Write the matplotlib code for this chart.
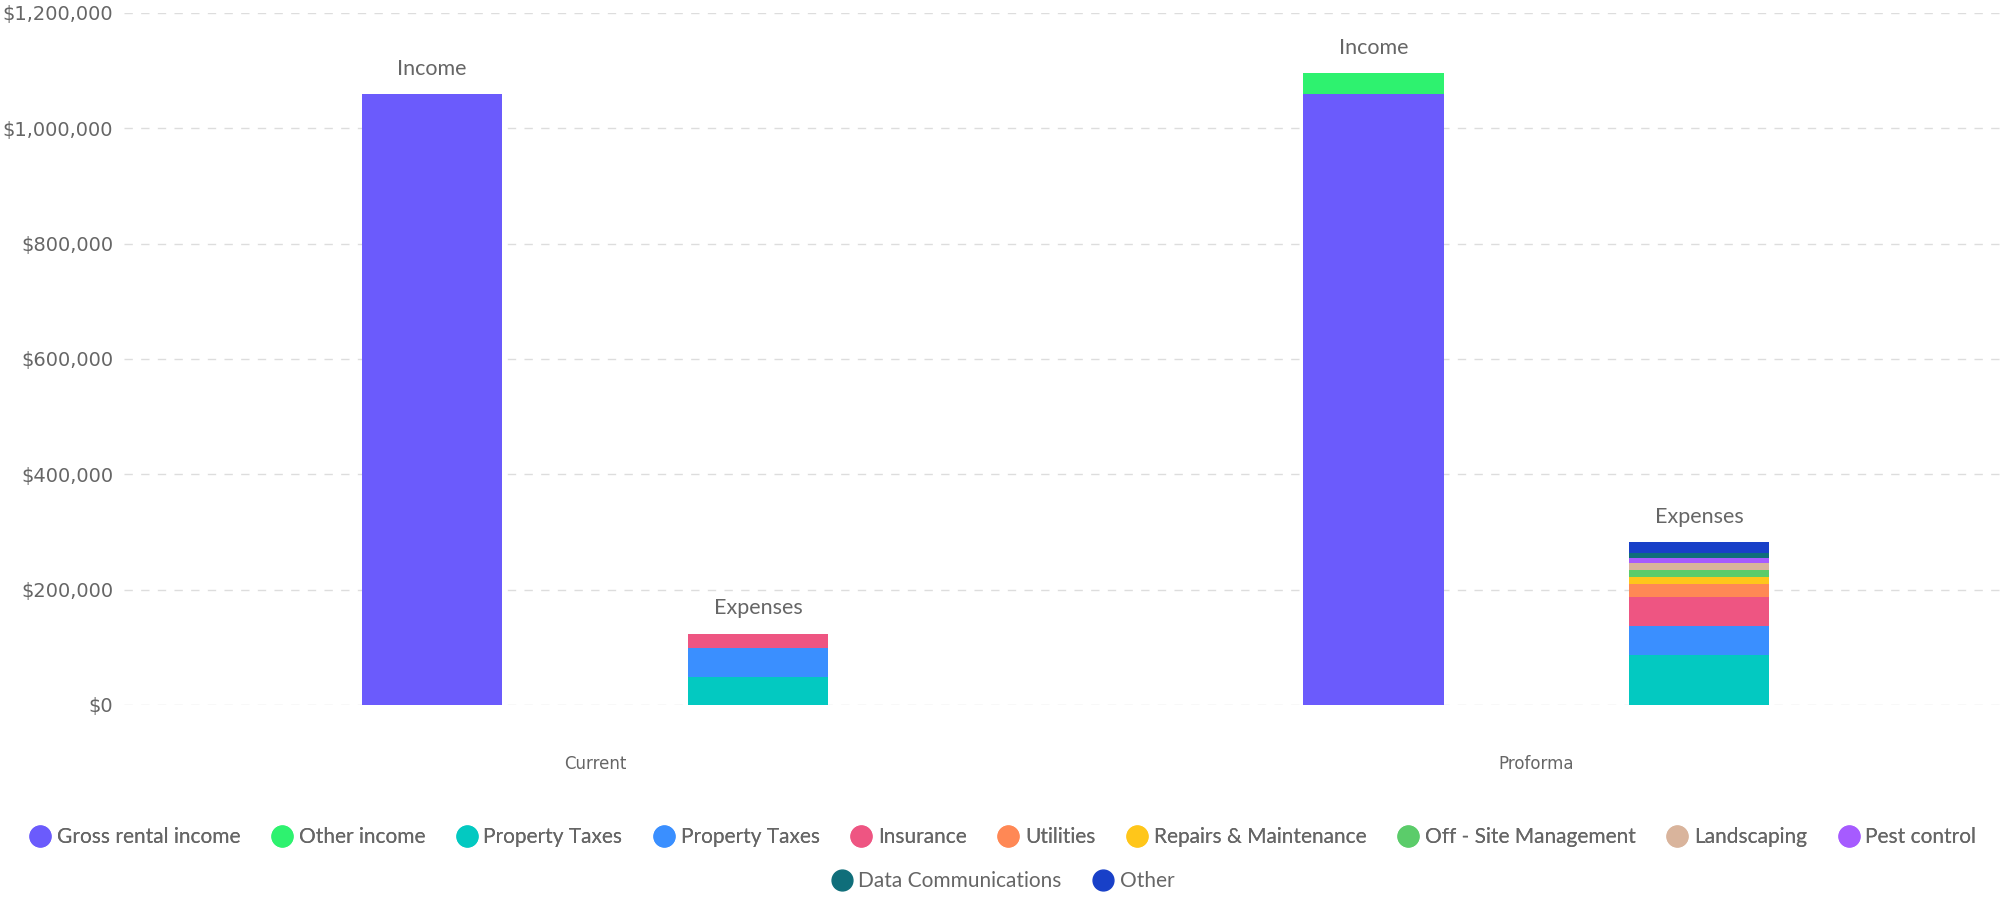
import matplotlib.pyplot as plt
from matplotlib.lines import Line2D
from matplotlib.ticker import FuncFormatter

plt.rcParams['font.family'] = ['Lato', 'DejaVu Sans']

groups = ["Current", "Proforma"]

income_names = ["Gross rental income", "Other income"]
income_colors = ["#6b5bfc", "#2ef26f"]
income_values = [
    [1058800, 1058800],   # Gross rental income
    [0, 36400],           # Other income
]

expense_names = ["Property Taxes", "Property Taxes", "Insurance", "Utilities",
                 "Repairs & Maintenance", "Off - Site Management", "Landscaping",
                 "Pest control", "Data Communications", "Other"]
expense_colors = ["#03c9c1", "#3a8fff", "#ee5582", "#ff8855", "#ffc61a",
                  "#5bcc6a", "#d9b49c", "#a65bff", "#0f6e7a", "#1840c8"]
expense_values = [
    [48500, 86700],
    [49800, 50300],
    [24800, 49700],
    [0, 23100],
    [0, 12600],
    [0, 11600],
    [0, 12700],
    [0, 8700],
    [0, 8700],
    [0, 17850],
]

fig = plt.figure(figsize=(20.07, 8.98), dpi=100)
ax = fig.add_axes([0.062, 0.215, 0.938, 0.7707])

x = list(range(len(groups)))
off = 0.173
w = 0.149
grey = "#666666"

# income stack
bottom = [0, 0]
for vals, col in zip(income_values, income_colors):
    ax.bar([i - off for i in x], vals, w, bottom=bottom, color=col, zorder=3, linewidth=0)
    bottom = [b + v for b, v in zip(bottom, vals)]
for i in x:
    ax.text(i - off, bottom[i] + 27000, "Income", ha="center", va="bottom", fontsize=15.5, color=grey)

# expense stack
bottom = [0, 0]
for vals, col in zip(expense_values, expense_colors):
    ax.bar([i + off for i in x], vals, w, bottom=bottom, color=col, zorder=3, linewidth=0)
    bottom = [b + v for b, v in zip(bottom, vals)]
for i in x:
    ax.text(i + off, bottom[i] + 27000, "Expenses", ha="center", va="bottom", fontsize=15.5, color=grey)

ax.set_xlim(-0.5, 1.5)
ax.set_ylim(0, 1200000)
ax.set_yticks(range(0, 1200001, 200000))
ax.yaxis.set_major_formatter(FuncFormatter(lambda v, p: "${:,.0f}".format(v)))
ax.set_xticks(x)
ax.set_xticklabels(groups)
ax.tick_params(axis="y", length=0, pad=8, labelcolor=grey)
ax.tick_params(axis="x", length=0, pad=36, labelcolor=grey)
for t in ax.get_yticklabels():
    t.set_fontfamily(["DejaVu Sans"])
    t.set_fontsize(14)
for t in ax.get_xticklabels():
    t.set_fontfamily(["DejaVu Sans"])
    t.set_fontsize(12)
ax.grid(axis="y", color="#dddddd", linestyle=(0, (6, 6)), linewidth=1, zorder=0)
for s in ax.spines.values():
    s.set_visible(False)

all_names = income_names + expense_names
all_colors = income_colors + expense_colors
handles = [Line2D([], [], marker="o", linestyle="none", markersize=15,
                  markerfacecolor=c, markeredgecolor=c) for c in all_colors]

leg_kw = dict(frameon=False, fontsize=15, handlelength=0.9, handletextpad=0.35,
              columnspacing=1.55, labelcolor=grey)
leg1 = fig.legend(handles[:10], all_names[:10], loc="center", bbox_to_anchor=(0.5, 1 - 837 / 898),
                  ncol=10, **leg_kw)
fig.add_artist(leg1)
fig.legend(handles[10:], all_names[10:], loc="center", bbox_to_anchor=(0.5, 1 - 881 / 898),
           ncol=2, **leg_kw)

fig.savefig("out.png", dpi=100)
